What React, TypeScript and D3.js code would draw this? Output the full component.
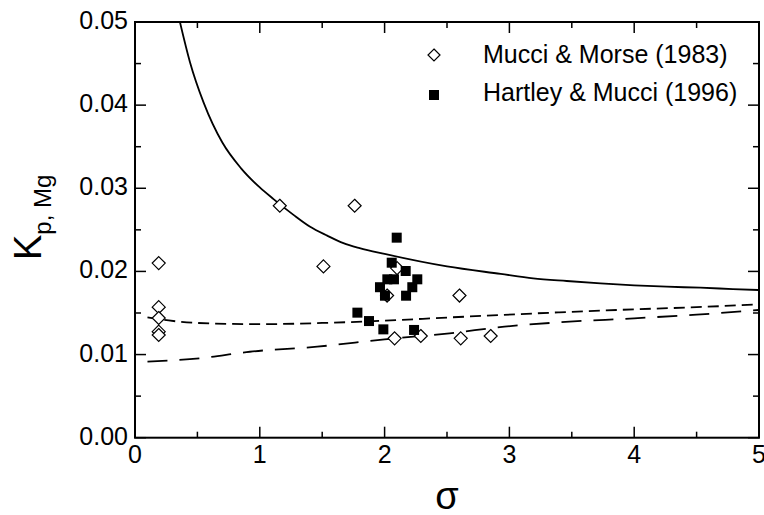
import React from "react";
import * as d3 from "d3";

const xTicks = [0, 1, 2, 3, 4, 5];
const yTicks = [0, 0.01, 0.02, 0.03, 0.04, 0.05];
const yTickLabels = ["0.00", "0.01", "0.02", "0.03", "0.04", "0.05"];

const mucciSigma = [0.19, 0.19, 0.19, 0.19, 0.19, 1.16, 1.51, 1.76, 2.1, 2.02, 2.6, 2.08, 2.29, 2.61, 2.85];
const mucciK = [0.021, 0.0157, 0.0144, 0.01275, 0.01235, 0.0279, 0.0206, 0.0279, 0.0204, 0.0171, 0.0171, 0.01195, 0.01223, 0.01195, 0.01223];

const hartleySigma = [2.097, 2.057, 2.169, 2.262, 2.022, 2.075, 1.963, 2.222, 2.003, 2.172, 1.782, 1.875, 1.99, 2.236];
const hartleyK = [0.02406, 0.02105, 0.02005, 0.01905, 0.01905, 0.01905, 0.0181, 0.0181, 0.01708, 0.01708, 0.01504, 0.01403, 0.01303, 0.01296];

const solidSigma = [0.36, 0.44, 0.55, 0.7, 0.85, 1.0, 1.11, 1.27, 1.4, 1.54, 1.67, 1.8, 2.0, 2.5, 2.93, 3.19, 3.46, 3.73, 4.0, 4.26, 4.53, 4.79, 5.0];
const solidK = [0.05, 0.0452, 0.0403, 0.0355, 0.0324, 0.0301, 0.0287, 0.0268, 0.0254, 0.0243, 0.0234, 0.0228, 0.0221, 0.0206, 0.0197, 0.01917, 0.01885, 0.01857, 0.01833, 0.01816, 0.01804, 0.01788, 0.01776];

const shortSigma = [0.1, 0.27, 0.5, 1.0, 1.5, 2.0, 2.5, 2.93, 3.4, 4.0, 4.5, 5.0];
const shortK = [0.01448, 0.0141, 0.0138, 0.01365, 0.0138, 0.01407, 0.01445, 0.01476, 0.01508, 0.01544, 0.0157, 0.01604];

const longSigma = [0.1, 0.52, 0.92, 1.46, 2.0, 2.52, 2.96, 3.4, 4.0, 4.5, 5.0];
const longK = [0.00914, 0.00955, 0.01034, 0.01095, 0.01183, 0.01256, 0.01335, 0.01388, 0.01436, 0.0148, 0.01536];

const legendLabels = ["Mucci & Morse (1983)", "Hartley & Mucci (1996)"];

const W = 764;
const H = 515;
const L = 135, R = 759, T = 22, B = 437.7;
const FONT = "'Liberation Sans', Arial, Helvetica, sans-serif";

export default function App() {
  const x = d3.scaleLinear().domain([0, 5]).range([L, R]);
  const y = d3.scaleLinear().domain([0, 0.05]).range([B, T]);
  const line = d3
    .line<[number, number]>()
    .x((d) => x(d[0]))
    .y((d) => y(d[1]))
    .curve(d3.curveMonotoneX);

  const zip = (a: number[], b: number[]) => a.map((v, i) => [v, b[i]] as [number, number]);

  const xMinor = d3.range(0, 5.001, 0.5);
  const yMinor = d3.range(0, 0.05001, 0.005);

  const diamond = (cx: number, cy: number, r: number) =>
    `M${cx},${cy - r}L${cx + r},${cy}L${cx},${cy + r}L${cx - r},${cy}Z`;

  return (
    <svg width={W} height={H} style={{ position: "absolute", left: 0, top: 0, background: "#fff" }} fontFamily={FONT}>
      <defs>
        <clipPath id="plot">
          <rect x={L} y={T} width={R - L} height={B - T} />
        </clipPath>
      </defs>
      <g clipPath="url(#plot)" fill="none" stroke="#000">
        <path d={line(zip(longSigma, longK)) || ""} strokeWidth={1.8} strokeDasharray="20,12" />
        <path d={line(zip(shortSigma, shortK)) || ""} strokeWidth={1.8} strokeDasharray="11,6" />
        <path d={line(zip(solidSigma, solidK)) || ""} strokeWidth={1.8} />
      </g>
      <g>
        {mucciSigma.map((s, i) => (
          <path key={"m" + i} d={diamond(x(s), y(mucciK[i]), 6.5)} fill="#fff" stroke="#000" strokeWidth={1.2} />
        ))}
        {hartleySigma.map((s, i) => (
          <rect key={"h" + i} x={x(s) - 5} y={y(hartleyK[i]) - 5} width={10} height={10} fill="#000" />
        ))}
      </g>
      {/* ticks */}
      <g stroke="#000" strokeWidth={1.5}>
        {xMinor.map((v, i) => {
          const major = Math.abs(v - Math.round(v)) < 1e-6;
          const len = major ? 11 : 6;
          return (
            <g key={"xt" + i}>
              <line x1={x(v)} x2={x(v)} y1={B} y2={B - len} />
              <line x1={x(v)} x2={x(v)} y1={T} y2={T + len} />
            </g>
          );
        })}
        {yMinor.map((v, i) => {
          const major = i % 2 === 0;
          const len = major ? 11 : 6;
          return (
            <g key={"yt" + i}>
              <line x1={L} x2={L + len} y1={y(v)} y2={y(v)} />
              <line x1={R} x2={R - len} y1={y(v)} y2={y(v)} />
            </g>
          );
        })}
      </g>
      <rect x={L} y={T} width={R - L} height={B - T} fill="none" stroke="#000" strokeWidth={2} />
      {/* tick labels */}
      <g fontSize={25} fill="#000">
        {xTicks.map((v) => (
          <text key={"xl" + v} x={x(v)} y={B + 25} textAnchor="middle">
            {v}
          </text>
        ))}
        {yTicks.map((v, i) => (
          <text key={"yl" + v} x={L - 7} y={y(v) + 7} textAnchor="end">
            {yTickLabels[i]}
          </text>
        ))}
      </g>
      {/* axis titles */}
      <text x={(L + R) / 2} y={509} textAnchor="middle" fontSize={38}>
        σ
      </text>
      <text transform="translate(41,260) rotate(-90)" fontSize={38}>
        K
        <tspan fontSize={24} dy={10}>p, Mg</tspan>
      </text>
      {/* legend */}
      <g>
        <path d={diamond(434, 55, 6)} fill="#fff" stroke="#000" strokeWidth={1.2} />
        <rect x={429} y={90} width={10} height={10} fill="#000" />
        <text x={483} y={63} fontSize={25}>{legendLabels[0]}</text>
        <text x={483} y={101} fontSize={25}>{legendLabels[1]}</text>
      </g>
    </svg>
  );
}
